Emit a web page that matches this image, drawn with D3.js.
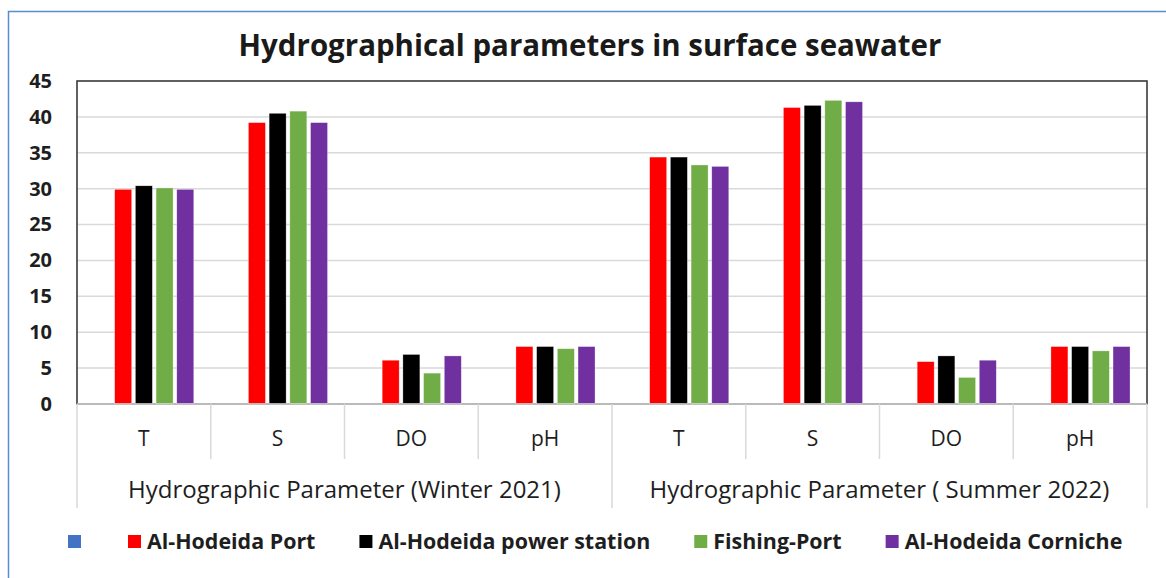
<!DOCTYPE html>
<html><head><meta charset="utf-8">
<script src="https://cdn.jsdelivr.net/npm/d3@7/dist/d3.min.js"></script>
<style>html,body{margin:0;padding:0;background:#fff;overflow:hidden}</style>
</head><body>
<svg id="chart" width="1166" height="578"></svg>
<script>
const title = "Hydrographical parameters in surface seawater";
const params = ["T", "S", "DO", "pH", "T", "S", "DO", "pH"];
const seasons = ["Hydrographic Parameter (Winter 2021)", "Hydrographic Parameter ( Summer 2022)"];
const seriesNames = ["", "Al-Hodeida Port", "Al-Hodeida power station", "Fishing-Port", "Al-Hodeida Corniche"];
const seriesColors = ["#4472C4", "#FF0000", "#000000", "#70AD47", "#7030A0"];
const blankSeries = [null, null, null, null, null, null, null, null];
const portValues = [29.9, 39.2, 6.1, 8.0, 34.4, 41.3, 5.9, 8.0];
const powerStationValues = [30.4, 40.5, 6.9, 8.0, 34.4, 41.6, 6.7, 8.0];
const fishingPortValues = [30.1, 40.8, 4.3, 7.7, 33.3, 42.3, 3.7, 7.4];
const cornicheValues = [29.9, 39.2, 6.7, 8.0, 33.1, 42.1, 6.1, 8.0];
const yTicks = [0, 5, 10, 15, 20, 25, 30, 35, 40, 45];

const seriesValues = [blankSeries, portValues, powerStationValues, fishingPortValues, cornicheValues];
const FONT = "'Open Sans', 'DejaVu Sans', sans-serif";
const TXT = "#1e1e1e";
const svg = d3.select("#chart").style("font-family", FONT);

function fit(sel, target) {
  const w = sel.node().getComputedTextLength();
  const fs = parseFloat(sel.attr("font-size"));
  sel.attr("font-size", (fs * target / w).toFixed(2));
}

// outer frame
svg.append("rect").attr("x", 8.5).attr("y", 11.5).attr("width", 1200).attr("height", 620)
  .attr("fill", "#fff").attr("stroke", "#5B8BD3").attr("stroke-width", 1.5);

const plot = {l: 77, r: 1147, t: 81, b: 404};
const y = d3.scaleLinear().domain([0, 45]).range([plot.b, plot.t]);
const x0 = d3.scaleBand().domain(d3.range(params.length)).range([plot.l, plot.r]);
const x1 = d3.scaleBand().domain(d3.range(seriesNames.length)).range([0, x0.bandwidth()])
  .paddingInner(0.18).paddingOuter(0.82);

// gridlines
svg.append("g").selectAll("line").data(yTicks.filter(t => t > 0 && t < 45)).join("line")
  .attr("x1", plot.l).attr("x2", plot.r).attr("y1", d => y(d)).attr("y2", d => y(d))
  .attr("stroke", "#D9D9D9").attr("stroke-width", 1.5);

// plot border
svg.append("rect").attr("x", plot.l).attr("y", plot.t).attr("width", plot.r - plot.l).attr("height", plot.b - plot.t)
  .attr("fill", "none").attr("stroke", "#3A3A3A").attr("stroke-width", 1.6);

// bars
const barsG = svg.append("g");
seriesValues.forEach((vals, si) => {
  barsG.append("g").selectAll("rect").data(vals.map((v, i) => ({v, i}))).join("rect")
    .filter(d => d.v != null)
    .attr("x", d => x0(d.i) + x1(si)).attr("width", x1.bandwidth())
    .attr("y", d => y(d.v)).attr("height", d => y(0) - y(d.v))
    .attr("fill", seriesColors[si]).attr("stroke", "#fff").attr("stroke-opacity", 0.5).attr("stroke-width", 0.6);
});

// category axis
svg.append("line").attr("x1", plot.l).attr("x2", plot.r).attr("y1", plot.b).attr("y2", plot.b)
  .attr("stroke", "#D9D9D9").attr("stroke-width", 1.5);
const divs = d3.range(params.length + 1);
svg.append("g").selectAll("line").data(divs).join("line")
  .attr("x1", d => d < params.length ? x0(d) : plot.r).attr("x2", d => d < params.length ? x0(d) : plot.r)
  .attr("y1", plot.b).attr("y2", d => d % 4 === 0 ? 508 : 459)
  .attr("stroke", "#D9D9D9").attr("stroke-width", 1.5);
svg.append("g").selectAll("text").data(params).join("text")
  .attr("x", (d, i) => x0(i) + x0.bandwidth() / 2).attr("y", 446)
  .attr("text-anchor", "middle").attr("font-size", 21).attr("fill", TXT).text(d => d);
const seasonText = svg.append("g").selectAll("text").data(seasons).join("text")
  .attr("x", (d, i) => (x0(i * 4) + x0(i * 4 + 3) + x0.bandwidth()) / 2).attr("y", 498)
  .attr("text-anchor", "middle").attr("font-size", 21).attr("fill", TXT).text(d => d);
fit(d3.select(seasonText.nodes()[0]), 433);
d3.select(seasonText.nodes()[1]).attr("font-size", d3.select(seasonText.nodes()[0]).attr("font-size"));

// y axis labels
const yAxis = svg.append("g").attr("transform", `translate(${plot.l},0)`)
  .call(d3.axisLeft(y).tickValues(yTicks).tickSize(0).tickPadding(25));
yAxis.select(".domain").remove();
yAxis.selectAll("text").attr("font-size", 20).attr("font-weight", "bold").attr("fill", TXT)
  .attr("font-family", FONT);

// title
const t = svg.append("text").attr("x", 590).attr("y", 56).attr("text-anchor", "middle")
  .attr("font-size", 26).attr("font-weight", "bold").attr("fill", "#1a1a1a").text(title);
fit(t, 703);

// legend
const lg = svg.append("g");
let lx = 68;
const sq = 13, ly = 549;
const probe = lg.append("text").attr("font-size", 19).attr("font-weight", "bold").text(seriesNames[2]);
fit(probe, 272);
const legendFs = probe.attr("font-size");
probe.remove();
seriesNames.forEach((name, i) => {
  lg.append("rect").attr("x", lx).attr("y", ly - 14).attr("width", sq).attr("height", sq).attr("fill", seriesColors[i]);
  lx += sq + 6;
  if (name) {
    const tx = lg.append("text").attr("x", lx).attr("y", ly).attr("font-size", legendFs).attr("font-weight", "bold")
      .attr("fill", TXT).text(name);
    lx += tx.node().getComputedTextLength() + 44;
  } else {
    lx += 41;
  }
});
</script>
</body></html>
